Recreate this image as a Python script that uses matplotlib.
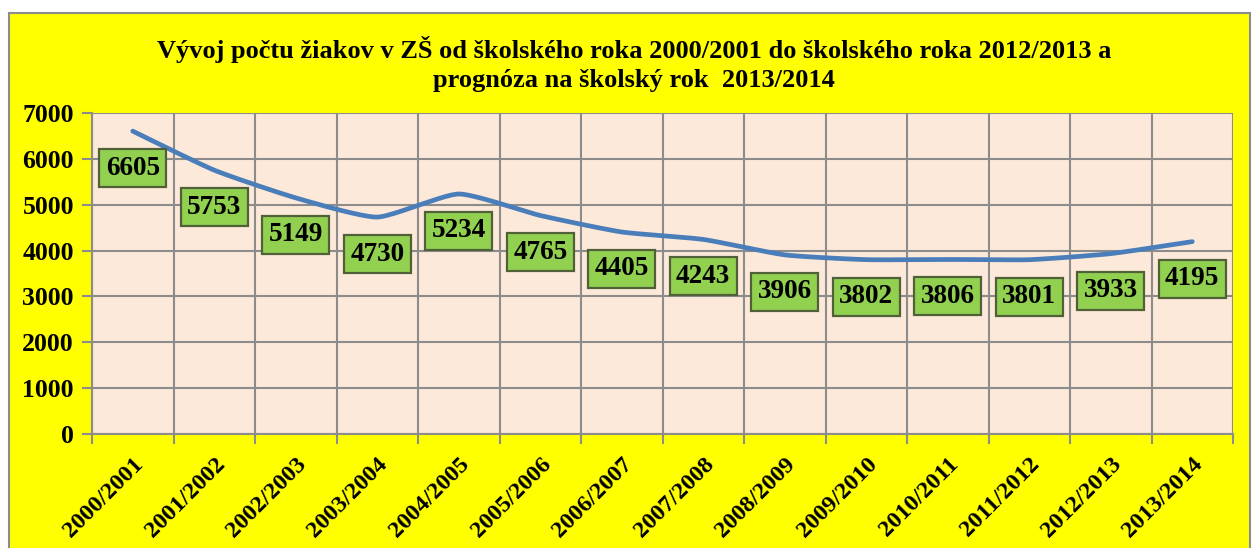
import numpy as np
import matplotlib
matplotlib.use("Agg")
import matplotlib.pyplot as plt
from matplotlib.patches import Rectangle
from matplotlib.transforms import ScaledTranslation

categories = ["2000/2001", "2001/2002", "2002/2003", "2003/2004", "2004/2005",
              "2005/2006", "2006/2007", "2007/2008", "2008/2009", "2009/2010",
              "2010/2011", "2011/2012", "2012/2013", "2013/2014"]
values = [6605, 5753, 5149, 4730, 5234, 4765, 4405, 4243, 3906, 3802, 3806, 3801, 3933, 4195]
yticks = [0, 1000, 2000, 3000, 4000, 5000, 6000, 7000]
title = ("Vývoj počtu žiakov v ZŠ od školského roka 2000/2001 do školského roka 2012/2013 a\n"
         "prognóza na školský rok  2013/2014")

plt.rcParams['font.family'] = ['Liberation Serif', 'DejaVu Serif']
plt.rcParams['font.weight'] = 'bold'

W, H = 1253, 548
fig = plt.figure(figsize=(W / 100, H / 100), dpi=100, facecolor='white')

# chart area
fig.patches.append(Rectangle((9 / W, -0.05), (1250 - 9) / W, (H - 13) / H + 0.05,
                             transform=fig.transFigure, facecolor='#FFFF00',
                             edgecolor='#8C8C8C', linewidth=1.5, zorder=-10))

left, right, top, bottom = 92, 1233, 113, 434
ax = fig.add_axes([left / W, (H - bottom) / H, (right - left) / W, (bottom - top) / H])
ax.set_zorder(5)
ax.set_facecolor('#FDE9D9')

n = len(categories)
x = np.arange(n)

# lightly smoothed line (cubic Bezier through data points, drawing only)
def smooth(xs, ys, s=0.55, steps=20):
    xs = np.asarray(xs, float); ys = np.asarray(ys, float)
    X = np.concatenate([[xs[0]], xs, [xs[-1]]])
    Y = np.concatenate([[ys[0]], ys, [ys[-1]]])
    px, py = [], []
    for i in range(1, len(X) - 2):
        t = np.linspace(0, 1, steps, endpoint=(i == len(X) - 3))
        for arr, out in ((X, px), (Y, py)):
            p0, p1, p2, p3 = arr[i - 1], arr[i], arr[i + 1], arr[i + 2]
            c1 = p1 + s * (p2 - p0) / 6
            c2 = p2 - s * (p3 - p1) / 6
            out.extend((1 - t) ** 3 * p1 + 3 * (1 - t) ** 2 * t * c1
                       + 3 * (1 - t) * t ** 2 * c2 + t ** 3 * p2)
    return px, py

sx, sy = smooth(x, values)
ax.plot(sx, sy, color='#4A7EBB', linewidth=3.4, solid_capstyle='round',
        solid_joinstyle='round', zorder=3)

for xi, v in zip(x, values):
    ax.annotate(str(v), (xi, v), xytext=(0, -37), textcoords='offset pixels',
                ha='center', va='center', fontsize=19.5, fontweight='bold', color='black',
                bbox=dict(boxstyle='square,pad=0.24', facecolor='#92D050',
                          edgecolor='#50613A', linewidth=1.6), zorder=4)

ax.set_xlim(-0.5, n - 0.5)
ax.set_ylim(0, 7000)
ax.set_yticks(yticks)
ax.set_yticklabels([str(t) for t in yticks], fontsize=18.5, fontweight='bold')
ax.set_xticks(np.arange(n + 1) - 0.5)
ax.set_xticklabels([])
ax.set_xticks(x, minor=True)
ax.set_xticklabels(categories, minor=True, rotation=45, ha='right', va='top',
                   rotation_mode='anchor', fontsize=17.5, fontweight='bold')
off = ScaledTranslation(4 / 100, 0, fig.dpi_scale_trans)
for lab in ax.get_xticklabels(minor=True):
    lab.set_transform(lab.get_transform() + off)
ax.tick_params(axis='x', which='minor', length=0, pad=14)
ax.tick_params(axis='x', which='major', length=7, color='#8C8C8C', width=1.5)
ax.tick_params(axis='y', length=7, color='#8C8C8C', width=1.5, pad=6)
ax.grid(True, which='major', color='#8C8C8C', linewidth=1.5)
ax.set_axisbelow(True)
for s in ax.spines.values():
    s.set_visible(False)
ax.spines['left'].set_visible(True)
ax.spines['bottom'].set_visible(True)
ax.spines['left'].set_color('#8C8C8C')
ax.spines['bottom'].set_color('#8C8C8C')
ax.spines['left'].set_linewidth(1.5)
ax.spines['bottom'].set_linewidth(1.5)

fig.text(634 / W, 1 - 64 / H, title, ha='center', va='center', fontsize=19,
         fontweight='bold', linespacing=1.35)

fig.savefig('out.png', dpi=100, facecolor='white')
